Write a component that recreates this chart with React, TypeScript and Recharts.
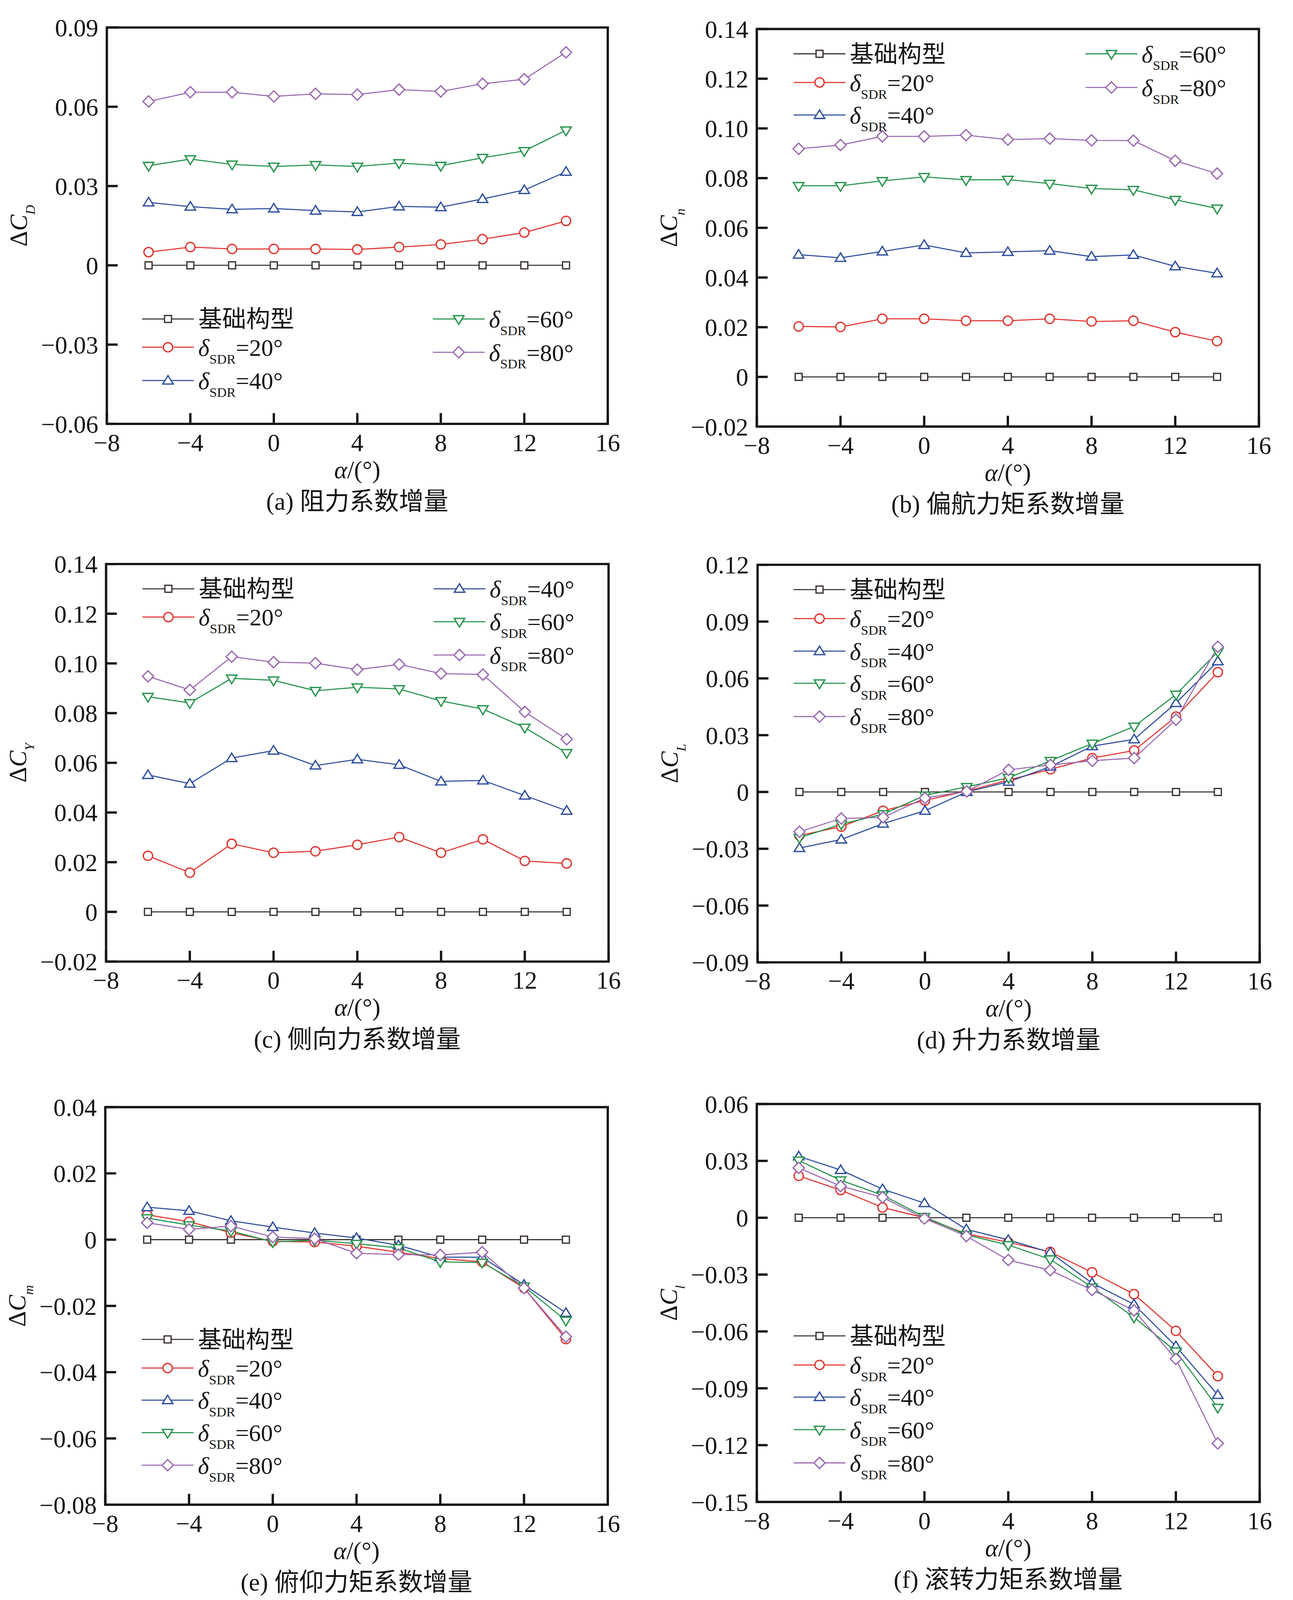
import React from "react";
import { LineChart, Line, XAxis, YAxis, ReferenceArea, Legend } from "recharts";

// ---------- data ----------
const alpha = [-6, -4, -2, 0, 2, 4, 6, 8, 10, 12, 14];
const xTicks = [-8, -4, 0, 4, 8, 12, 16];
const baseLine = [0, 0, 0, 0, 0, 0, 0, 0, 0, 0, 0];

// (a) drag coefficient increment
const cdS20 = [0.005, 0.0069, 0.0062, 0.0062, 0.0062, 0.006, 0.0069, 0.0079, 0.0099, 0.0124, 0.0168];
const cdS40 = [0.0238, 0.0222, 0.0212, 0.0215, 0.0207, 0.0202, 0.0223, 0.022, 0.0251, 0.0285, 0.0354];
const cdS60 = [0.0377, 0.0402, 0.0382, 0.0374, 0.038, 0.0374, 0.0387, 0.0377, 0.0407, 0.0433, 0.0511];
const cdS80 = [0.062, 0.0655, 0.0655, 0.0639, 0.0649, 0.0646, 0.0665, 0.0658, 0.0687, 0.0704, 0.0806];
const cdTicks = [-0.06, -0.03, 0, 0.03, 0.06, 0.09];

// (b) yawing moment coefficient increment
const cnS20 = [0.0203, 0.0201, 0.0234, 0.0234, 0.0226, 0.0226, 0.0234, 0.0223, 0.0226, 0.018, 0.0144];
const cnS40 = [0.0492, 0.0479, 0.0505, 0.0531, 0.0499, 0.0503, 0.0508, 0.0484, 0.0491, 0.0445, 0.0417];
const cnS60 = [0.0769, 0.0769, 0.0789, 0.0805, 0.0793, 0.0794, 0.0778, 0.0758, 0.0753, 0.0713, 0.0678];
const cnS80 = [0.0918, 0.0933, 0.0968, 0.0968, 0.0973, 0.0955, 0.0959, 0.0952, 0.0951, 0.087, 0.0818];
const cnTicks = [-0.02, 0, 0.02, 0.04, 0.06, 0.08, 0.1, 0.12, 0.14];

// (c) side force coefficient increment
const cyS20 = [0.0226, 0.0158, 0.0274, 0.0238, 0.0244, 0.027, 0.0301, 0.0238, 0.0292, 0.0205, 0.0195];
const cyS40 = [0.0551, 0.0516, 0.0619, 0.0649, 0.0589, 0.0614, 0.0592, 0.0525, 0.0529, 0.0468, 0.0407];
const cyS60 = [0.0866, 0.0841, 0.094, 0.0932, 0.089, 0.0904, 0.0897, 0.0849, 0.0816, 0.0742, 0.064];
const cyS80 = [0.0948, 0.0893, 0.1027, 0.1005, 0.1001, 0.0975, 0.0996, 0.0959, 0.0955, 0.0805, 0.0695];
const cyTicks = [-0.02, 0, 0.02, 0.04, 0.06, 0.08, 0.1, 0.12, 0.14];

// (d) lift coefficient increment
const clS20 = [-0.023, -0.0183, -0.0099, -0.0045, 0.0005, 0.0063, 0.012, 0.0179, 0.0219, 0.0398, 0.0633];
const clS40 = [-0.0296, -0.0251, -0.0167, -0.0099, 0.0, 0.0054, 0.0134, 0.0242, 0.0278, 0.047, 0.069];
const clS60 = [-0.0242, -0.017, -0.0117, -0.0018, 0.0027, 0.0075, 0.0165, 0.0256, 0.0346, 0.0515, 0.0741];
const clS80 = [-0.021, -0.014, -0.0134, -0.0032, 0.0003, 0.0117, 0.0143, 0.0165, 0.0179, 0.0382, 0.0767];
const clTicks = [-0.09, -0.06, -0.03, 0, 0.03, 0.06, 0.09, 0.12];

// (e) pitching moment coefficient increment
const cmS20 = [0.0075, 0.0054, 0.0021, -0.0005, -0.0007, -0.002, -0.0038, -0.0057, -0.0067, -0.0146, -0.03];
const cmS40 = [0.0098, 0.0087, 0.0057, 0.0038, 0.002, 0.0005, -0.0017, -0.0053, -0.0053, -0.0136, -0.0221];
const cmS60 = [0.0065, 0.0044, 0.0026, -0.0007, -0.0002, -0.0012, -0.0025, -0.0067, -0.0069, -0.0141, -0.0244];
const cmS80 = [0.0051, 0.0031, 0.0041, 0.0008, 0.0003, -0.0041, -0.0045, -0.0046, -0.0038, -0.0146, -0.0293];
const cmTicks = [-0.08, -0.06, -0.04, -0.02, 0, 0.02, 0.04];

// (f) rolling moment coefficient increment
const crS20 = [0.0221, 0.0146, 0.0054, 0.0, -0.0085, -0.0129, -0.018, -0.0288, -0.0403, -0.0597, -0.0836];
const crS40 = [0.0324, 0.0252, 0.0151, 0.0077, -0.0061, -0.0117, -0.0183, -0.0345, -0.0457, -0.0678, -0.0935];
const crS60 = [0.0302, 0.0198, 0.0119, 0.0005, -0.009, -0.0144, -0.0219, -0.0367, -0.0525, -0.0705, -0.1002];
const crS80 = [0.0263, 0.0167, 0.0108, -0.0004, -0.0097, -0.0223, -0.0277, -0.0381, -0.0489, -0.0745, -0.1191];
const crTicks = [-0.15, -0.12, -0.09, -0.06, -0.03, 0, 0.03, 0.06];

// ---------- styling ----------
const FONT = '"Liberation Serif", "Times New Roman", "Noto Sans CJK SC", serif';
const INK = "#151515";

const SERIES = [
  { key: "base", name: "基础构型", deg: "", marker: "square", color: "#3b3331" },
  { key: "s20", name: "δSDR=20°", deg: "20", marker: "circle", color: "#e2332e" },
  { key: "s40", name: "δSDR=40°", deg: "40", marker: "up", color: "#2d4d9e" },
  { key: "s60", name: "δSDR=60°", deg: "60", marker: "down", color: "#23934a" },
  { key: "s80", name: "δSDR=80°", deg: "80", marker: "diamond", color: "#9a68b2" },
];

function Marker({ type, cx, cy, color }: any) {
  if (cx == null || cy == null) return null;
  const p = { fill: "#fff", stroke: color, strokeWidth: 3.3 };
  switch (type) {
    case "square":
      return <rect x={cx - 9} y={cy - 9} width={18} height={18} {...p} />;
    case "circle":
      return <circle cx={cx} cy={cy} r={12} {...p} />;
    case "up":
      return <path d={`M${cx},${cy - 13} L${cx + 13.5},${cy + 9} L${cx - 13.5},${cy + 9} Z`} {...p} />;
    case "down":
      return <path d={`M${cx - 13.5},${cy - 8.5} L${cx + 13.5},${cy - 8.5} L${cx},${cy + 14} Z`} {...p} />;
    default:
      return <path d={`M${cx},${cy - 14.5} L${cx + 14.5},${cy} L${cx},${cy + 14.5} L${cx - 14.5},${cy} Z`} {...p} />;
  }
}

const makeDot = (type: string, color: string) => (props: any) =>
  <Marker key={`dot-${type}-${props.index}`} type={type} cx={props.cx} cy={props.cy} color={color} />;

const fmtNum = (v: number) => {
  if (Math.abs(v) < 1e-9) return "0";
  const s = Math.abs(v).toFixed(2);
  return v < 0 ? "\u2212" + s : s;
};
const fmtX = (v: number) => (v < 0 ? "\u2212" + Math.abs(v) : String(v));

function YLabel({ viewBox, sub }: any) {
  if (!viewBox) return null;
  const bx = viewBox.x + viewBox.width - 206;
  const cy = viewBox.y + viewBox.height / 2;
  return (
    <text
      transform={`translate(${bx},${cy}) rotate(-90)`}
      textAnchor="middle"
      fontFamily={FONT}
      fontSize={63}
      fill={INK}
      x={0}
      y={0}
    >
      <tspan>Δ</tspan>
      <tspan fontStyle="italic">C</tspan>
      <tspan fontStyle="italic" fontSize={35} dy={20}>{sub}</tspan>
    </text>
  );
}

function XLabel({ viewBox, caption }: any) {
  if (!viewBox) return null;
  const cx = viewBox.x + viewBox.width / 2;
  const b = viewBox.y;
  return (
    <g>
      <text x={cx} y={b + 140} textAnchor="middle" fontFamily={FONT} fontSize={64} fill={INK}>
        <tspan fontStyle="italic">α</tspan>
        <tspan>/(°)</tspan>
      </text>
      <text x={cx} y={b + 222} textAnchor="middle" fontFamily={FONT} fontSize={64} fill={INK}>
        {caption}
      </text>
    </g>
  );
}

function LegendBox({ payload, cols, w, h }: any) {
  const items = payload || [];
  return (
    <svg width={w} height={h} style={{ overflow: "visible", display: "block" }}>
      {cols.map((col: any, ci: number) =>
        col.rows.map(([key, y]: [string, number]) => {
          const s = SERIES.find((q) => q.key === key)!;
          const item = items.find((it: any) => it.dataKey === key);
          const color = item ? item.color : s.color;
          const x0 = col.x;
          const tx = x0 + 145;
          return (
            <g key={`${ci}-${key}`}>
              <line x1={x0} x2={x0 + 134} y1={y} y2={y} stroke={color} strokeWidth={2.8} />
              <Marker type={s.marker} cx={x0 + 67} cy={y} color={color} />
              {s.deg ? (
                <text x={tx} y={y + 22} fontFamily={FONT} fontSize={62} fill={INK}>
                  <tspan fontStyle="italic">δ</tspan>
                  <tspan fontSize={35} dy={20}>SDR</tspan>
                  <tspan dy={-20}>={s.deg}°</tspan>
                </text>
              ) : (
                <text x={tx} y={y + 22} fontFamily={FONT} fontSize={62} fill={INK}>
                  {item ? item.value : s.name}
                </text>
              )}
            </g>
          );
        })
      )}
    </svg>
  );
}

const PANELS = [
  {
    id: "a", L: 276, T: 71, W: 1294, H: 1024, mr: 60,
    s20: cdS20, s40: cdS40, s60: cdS60, s80: cdS80, ticks: cdTicks, domain: [-0.06, 0.09],
    sub: "D", caption: "(a) 阻力系数增量",
    legend: [
      { x: 91, rows: [["base", 753], ["s20", 826], ["s40", 912]] },
      { x: 842, rows: [["s60", 753], ["s80", 839]] },
    ],
  },
  {
    id: "b", L: 1955, T: 75, W: 1297, H: 1027, mr: 45,
    s20: cnS20, s40: cnS40, s60: cnS60, s80: cnS80, ticks: cnTicks, domain: [-0.02, 0.14],
    sub: "n", caption: "(b) 偏航力矩系数增量",
    legend: [
      { x: 95, rows: [["base", 64], ["s20", 138], ["s40", 222]] },
      { x: 849, rows: [["s60", 64], ["s80", 151]] },
    ],
  },
  {
    id: "c", L: 274, T: 1457, W: 1298, H: 1027, mr: 60,
    s20: cyS20, s40: cyS40, s60: cyS60, s80: cyS80, ticks: cyTicks, domain: [-0.02, 0.14],
    sub: "Y", caption: "(c) 侧向力系数增量",
    legend: [
      { x: 94, rows: [["base", 64], ["s20", 137]] },
      { x: 846, rows: [["s40", 64], ["s60", 149], ["s80", 235]] },
    ],
  },
  {
    id: "d", L: 1957, T: 1459, W: 1297, H: 1027, mr: 45,
    s20: clS20, s40: clS40, s60: clS60, s80: clS80, ticks: clTicks, domain: [-0.09, 0.12],
    sub: "L", caption: "(d) 升力系数增量",
    legend: [
      { x: 93, rows: [["base", 64], ["s20", 139], ["s40", 223], ["s60", 306], ["s80", 392]] },
    ],
  },
  {
    id: "e", L: 272, T: 2860, W: 1298, H: 1027, mr: 60,
    s20: cmS20, s40: cmS40, s60: cmS60, s80: cmS80, ticks: cmTicks, domain: [-0.08, 0.04],
    sub: "m", caption: "(e) 俯仰力矩系数增量",
    legend: [
      { x: 94, rows: [["base", 600], ["s20", 674], ["s40", 757], ["s60", 841], ["s80", 925]] },
    ],
  },
  {
    id: "f", L: 1955, T: 2852, W: 1299, H: 1028, mr: 45,
    s20: crS20, s40: crS40, s60: crS60, s80: crS80, ticks: crTicks, domain: [-0.15, 0.06],
    sub: "l", caption: "(f) 滚转力矩系数增量",
    legend: [
      { x: 95, rows: [["base", 599], ["s20", 674], ["s40", 757], ["s60", 841], ["s80", 927]] },
    ],
  },
];

function Panel({ cfg }: any) {
  const yw = 300;
  const mt = 40;
  const xh = 100;
  const mb = 145;
  const cw = yw + cfg.W + cfg.mr;
  const ch = mt + cfg.H + xh + mb;
  const data = alpha.map((a, i) => ({
    a,
    base: baseLine[i],
    s20: cfg.s20[i],
    s40: cfg.s40[i],
    s60: cfg.s60[i],
    s80: cfg.s80[i],
  }));
  const tickStyle = { fontSize: 64, fontFamily: FONT, fill: INK };
  return (
    <div style={{ position: "absolute", left: cfg.L - 8 - yw, top: cfg.T - 8 - mt }}>
      <LineChart width={cw} height={ch} data={data} margin={{ top: mt, right: cfg.mr, bottom: mb, left: 0 }}>
        <XAxis
          dataKey="a"
          type="number"
          domain={[-8, 16]}
          ticks={xTicks}
          interval={0}
          allowDataOverflow
          axisLine={false}
          tickSize={-28}
          tickMargin={53}
          tickLine={{ stroke: INK, strokeWidth: 6 }}
          tick={tickStyle}
          tickFormatter={fmtX}
          height={xh}
          label={<XLabel caption={cfg.caption} />}
        />
        <YAxis
          type="number"
          domain={cfg.domain}
          ticks={cfg.ticks}
          interval={0}
          allowDataOverflow
          width={yw}
          axisLine={false}
          tickSize={-28}
          tickMargin={50}
          tickLine={{ stroke: INK, strokeWidth: 6 }}
          tick={tickStyle}
          tickFormatter={fmtNum}
          label={<YLabel sub={cfg.sub} />}
        />
        <ReferenceArea
          x1={-8}
          x2={16}
          y1={cfg.domain[0]}
          y2={cfg.domain[1]}
          fill="none"
          fillOpacity={0}
          stroke={INK}
          strokeWidth={6}
          ifOverflow="visible"
        />
        {SERIES.map((s) => (
          <Line
            key={s.key}
            dataKey={s.key}
            name={s.name}
            type="linear"
            stroke={s.color}
            strokeWidth={2.8}
            dot={makeDot(s.marker, s.color)}
            activeDot={false}
            isAnimationActive={false}
          />
        ))}
        <Legend
          layout="vertical"
          align="center"
          verticalAlign="middle"
          content={<LegendBox cols={cfg.legend} w={cfg.W} h={cfg.H} />}
          wrapperStyle={{ position: "absolute", left: yw, top: mt, width: cfg.W, height: cfg.H, pointerEvents: "none" }}
        />
      </LineChart>
    </div>
  );
}

export default function App() {
  return (
    <div style={{ width: 3294, height: 4120, overflow: "hidden", background: "#fff" }}>
      <div
        style={{
          position: "relative",
          width: 3294,
          height: 4120,
          transform: "scale(0.991)",
          transformOrigin: "-8px -8px",
        }}
      >
        {PANELS.map((p) => (
          <Panel key={p.id} cfg={p} />
        ))}
      </div>
    </div>
  );
}
